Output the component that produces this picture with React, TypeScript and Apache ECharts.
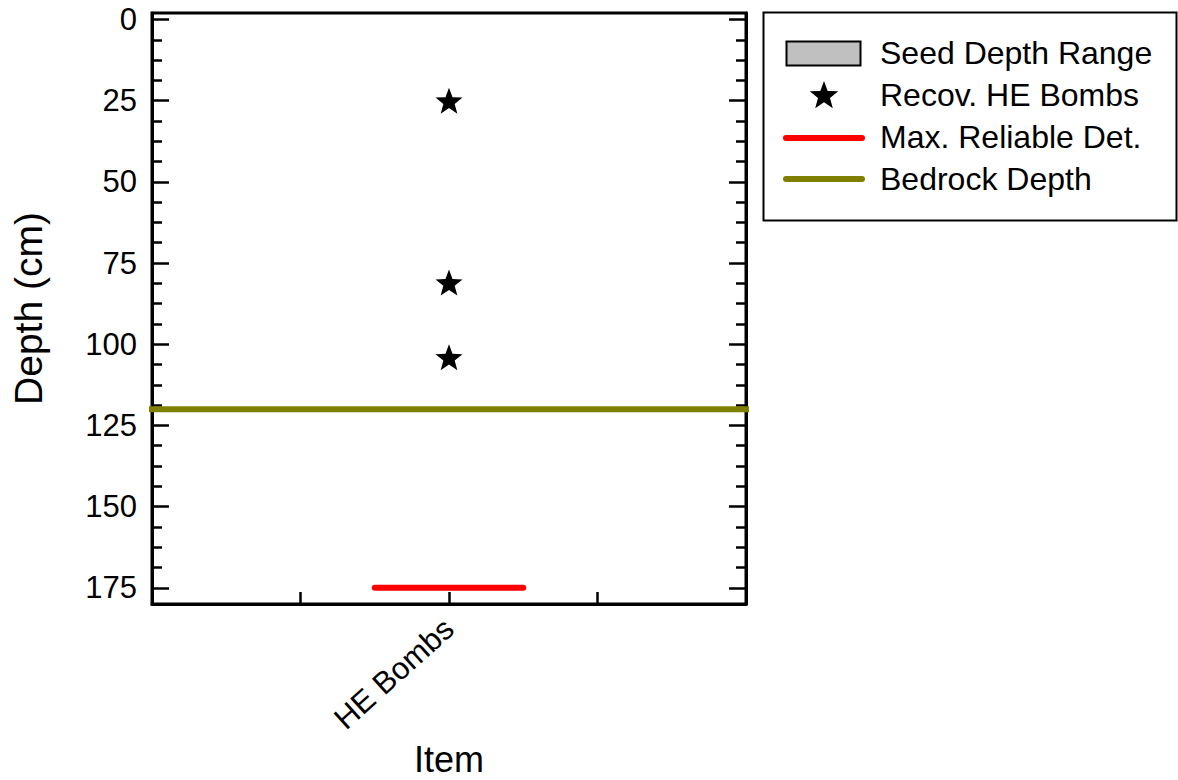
import React, { useEffect, useRef } from "react";
import * as echarts from "echarts";

const categories = ["HE Bombs"];
const categoryPos = [2];
const bombDepths = [25, 81, 104];
const bedrockDepth = 120;
const bedrockSpan = [-0.05, 4.02];
const maxReliableDet = 175;
const maxDetSpan = [1.5, 2.5];
const yMajorTicks = [0, 25, 50, 75, 100, 125, 150, 175];
const yMinorTicks = [
  6.25, 12.5, 18.75, 31.25, 37.5, 43.75, 56.25, 62.5, 68.75, 81.25, 87.5, 93.75,
  106.25, 112.5, 118.75, 131.25, 137.5, 143.75, 156.25, 162.5, 168.75,
];
const xTicks = [1, 2, 3];
const legendLabels = ["Seed Depth Range", "Recov. HE Bombs", "Max. Reliable Det.", "Bedrock Depth"];

const FONT = "'Liberation Sans', Arial, sans-serif";
const STAR =
  "path://M100 0 L124.69 66.02 L195.11 69.1 L139.95 112.98 L158.78 180.9 L100 142 L41.22 180.9 L60.05 112.98 L4.89 69.1 L75.31 66.02 Z";

function starPoints(cx: number, cy: number, r: number): number[][] {
  const pts: number[][] = [];
  for (let i = 0; i < 10; i++) {
    const a = ((-90 + i * 36) * Math.PI) / 180;
    const rr = i % 2 === 0 ? r : r * 0.42;
    pts.push([cx + rr * Math.cos(a), cy + rr * Math.sin(a)]);
  }
  return pts;
}

export default function App() {
  const ref = useRef<HTMLDivElement>(null);
  useEffect(() => {
    if (!ref.current) return;
    const chart = echarts.init(ref.current, null, { renderer: "svg" });
    const yBase = {
      type: "value",
      inverse: true,
      min: -2,
      max: 180,
      splitLine: { show: false },
    };
    chart.setOption({
      animation: false,
      textStyle: { fontFamily: FONT },
      grid: {
        left: 152,
        right: 432,
        top: 13,
        bottom: 176,
        containLabel: false,
        outerBoundsMode: "none",
        show: true,
        borderColor: "#000",
        borderWidth: 3,
        backgroundColor: "transparent",
      },
      xAxis: {
        type: "value",
        min: 0,
        max: 4,
        position: "bottom",
        splitLine: { show: false },
        axisLine: { show: true, onZero: false, lineStyle: { color: "#000", width: 3 } },
        axisTick: {
          show: true,
          inside: true,
          length: 12,
          lineStyle: { color: "#000", width: 2.5 },
          customValues: xTicks,
        },
        axisLabel: {
          show: true,
          customValues: categoryPos,
          formatter: (v: number) => categories[categoryPos.indexOf(v)] ?? "",
          rotate: 42,
          fontSize: 31,
          color: "#000",
          margin: 20,
          fontFamily: FONT,
        },
        name: "Item",
        nameLocation: "middle",
        nameGap: 136,
        nameTextStyle: { fontSize: 36, color: "#000", fontFamily: FONT },
      },
      yAxis: [
        {
          ...yBase,
          position: "left",
          axisLine: { show: true, onZero: false, lineStyle: { color: "#000", width: 3 } },
          axisTick: {
            show: true,
            inside: true,
            length: 17,
            lineStyle: { color: "#000", width: 2.5 },
            customValues: yMajorTicks,
          },
          axisLabel: {
            show: true,
            customValues: yMajorTicks,
            fontSize: 31,
            color: "#000",
            margin: 15,
            fontFamily: FONT,
          },
          name: "Depth (cm)",
          nameLocation: "middle",
          nameGap: 104,
          nameTextStyle: { fontSize: 39, color: "#000", fontFamily: FONT },
        },
        {
          ...yBase,
          position: "left",
          axisLine: { show: false },
          axisTick: {
            show: true,
            inside: true,
            length: 10,
            lineStyle: { color: "#000", width: 2.5 },
            customValues: yMinorTicks,
          },
          axisLabel: { show: false },
        },
        {
          ...yBase,
          position: "right",
          axisLine: { show: true, onZero: false, lineStyle: { color: "#000", width: 3 } },
          axisTick: {
            show: true,
            inside: true,
            length: 17,
            lineStyle: { color: "#000", width: 2.5 },
            customValues: yMajorTicks,
          },
          axisLabel: { show: false },
        },
        {
          ...yBase,
          position: "right",
          axisLine: { show: false },
          axisTick: {
            show: true,
            inside: true,
            length: 10,
            lineStyle: { color: "#000", width: 2.5 },
            customValues: yMinorTicks,
          },
          axisLabel: { show: false },
        },
      ],
      series: [
        {
          name: legendLabels[3],
          type: "line",
          clip: false,
          symbol: "none",
          data: bedrockSpan.map((x) => [x, bedrockDepth]),
          lineStyle: { color: "#808000", width: 6 },
          z: 3,
        },
        {
          name: legendLabels[2],
          type: "line",
          clip: false,
          symbol: "none",
          data: maxDetSpan.map((x) => [x, maxReliableDet]),
          lineStyle: { color: "#ff0000", width: 6, cap: "round" },
          z: 3,
        },
        {
          name: legendLabels[1],
          type: "scatter",
          symbol: STAR,
          symbolSize: [27, 26],
          itemStyle: { color: "#000", opacity: 1 },
          data: bombDepths.map((d) => [categoryPos[0], d]),
          z: 4,
        },
      ],
      graphic: [
        {
          type: "rect",
          shape: { x: 763.5, y: 12.5, width: 413, height: 208 },
          style: { fill: "#fff", stroke: "#000", lineWidth: 2 },
        },
        {
          type: "rect",
          shape: { x: 786.5, y: 41.5, width: 74, height: 24 },
          style: { fill: "#c0c0c0", stroke: "#000", lineWidth: 2 },
        },
        {
          type: "polygon",
          shape: { points: starPoints(824, 96, 15) },
          style: { fill: "#000" },
        },
        {
          type: "line",
          shape: { x1: 786, y1: 138, x2: 862, y2: 138 },
          style: { stroke: "#ff0000", lineWidth: 6, lineCap: "round" },
        },
        {
          type: "line",
          shape: { x1: 786, y1: 179, x2: 862, y2: 179 },
          style: { stroke: "#808000", lineWidth: 6, lineCap: "round" },
        },
        ...legendLabels.map((t, i) => ({
          type: "text",
          x: 880,
          y: 53 + i * 42,
          style: {
            text: t,
            fontSize: 32,
            fill: "#000",
            fontFamily: FONT,
            verticalAlign: "middle",
          },
        })),
      ],
    });
    return () => chart.dispose();
  }, []);
  return (
    <div
      ref={ref}
      style={{ position: "absolute", left: 0, top: 0, width: 1178, height: 780, background: "#fff" }}
    />
  );
}
